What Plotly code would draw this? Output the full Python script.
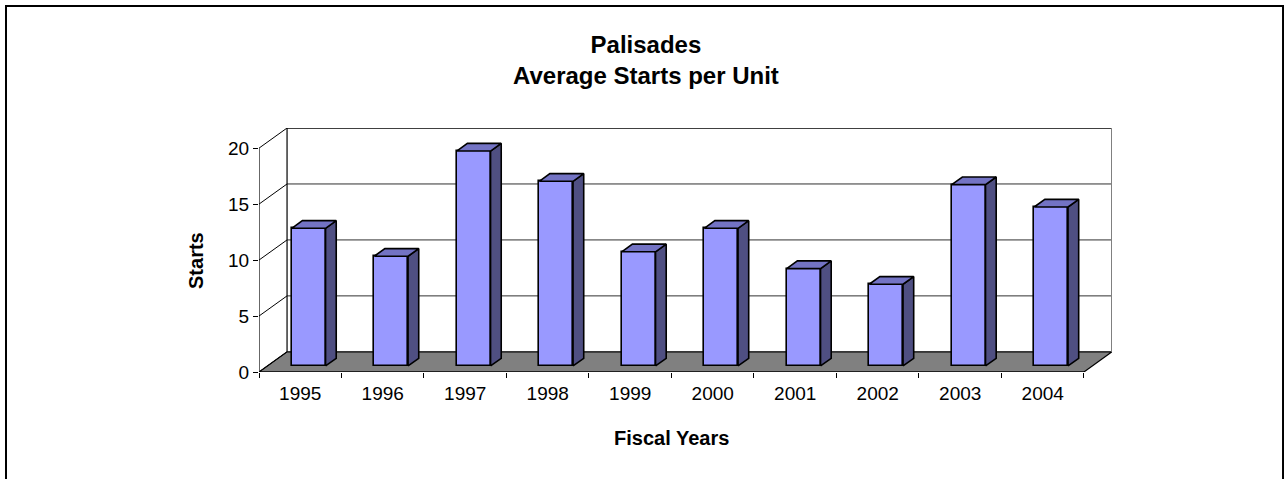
import plotly.graph_objects as go

# ---- data ----
years = ["1995", "1996", "1997", "1998", "1999", "2000", "2001", "2002", "2003", "2004"]
starts = [12.3, 9.8, 19.2, 16.5, 10.2, 12.3, 8.7, 7.3, 16.2, 14.2]
y_ticks = [0, 5, 10, 15, 20]
title_lines = ["Palisades", "Average Starts per Unit"]
x_title = "Fiscal Years"
y_title = "Starts"

# ---- 3D pseudo-depth geometry (in axis units) ----
DX = 0.34      # depth offset along x (category units)
DY = 1.8       # depth offset along y (value units)
BAR_W = 0.41
Z0, Z1 = 0.30, 0.68   # bar front / back depth fraction
Y_MAX = y_ticks[-1]

pos = list(range(len(years)))
n = len(years)

FRONT = "#9999FF"
SIDE = "#4F4F82"
TOP = "#7373C4"
FONT = "Liberation Sans, Arial, sans-serif"

fig = go.Figure()

# front faces
fig.add_trace(go.Bar(
    x=[p + Z0 * DX for p in pos], y=starts, base=Z0 * DY, width=BAR_W,
    marker=dict(color=FRONT, line=dict(color="black", width=1.6)),
    hoverinfo="skip", showlegend=False,
))

dz = Z1 - Z0
side_x, side_y, top_x, top_y = [], [], [], []
for p, v in zip(pos, starts):
    b = Z0 * DY
    xl = p - BAR_W / 2 + Z0 * DX
    xr = p + BAR_W / 2 + Z0 * DX
    side_x += [xr, xr + dz * DX, xr + dz * DX, xr, xr, None]
    side_y += [b, b + dz * DY, b + v + dz * DY, b + v, b, None]
    t = b + v
    top_x += [xl, xr, xr + dz * DX, xl + dz * DX, xl, None]
    top_y += [t, t, t + dz * DY, t + dz * DY, t, None]

fig.add_trace(go.Scatter(x=side_x, y=side_y, mode="lines", fill="toself",
                         fillcolor=SIDE, line=dict(color="black", width=1.6),
                         hoverinfo="skip", showlegend=False))
fig.add_trace(go.Scatter(x=top_x, y=top_y, mode="lines", fill="toself",
                         fillcolor=TOP, line=dict(color="black", width=1.6),
                         hoverinfo="skip", showlegend=False))

x0, x1 = -0.5, n - 0.5
shapes = []
# floor
shapes.append(dict(type="path", xref="x", yref="y", layer="below",
                   path=f"M {x0},0 L {x1},0 L {x1+DX},{DY} L {x0+DX},{DY} Z",
                   fillcolor="#808080", line=dict(color="black", width=1.2)))
# back wall gridlines and left wall slants
for v in y_ticks:
    if 0 < v < Y_MAX:
        shapes.append(dict(type="line", xref="x", yref="y", layer="below",
                           x0=x0 + DX, x1=x1 + DX, y0=v + DY, y1=v + DY,
                           line=dict(color="#303030", width=1)))
    shapes.append(dict(type="line", xref="x", yref="y", layer="below",
                       x0=x0, x1=x0 + DX, y0=v, y1=v + DY,
                       line=dict(color="black", width=1)))
# back wall edges
shapes.append(dict(type="line", xref="x", yref="y", layer="below",
                   x0=x0 + DX, x1=x1 + DX, y0=Y_MAX + DY, y1=Y_MAX + DY,
                   line=dict(color="black", width=1.5)))
shapes.append(dict(type="line", xref="x", yref="y", layer="below",
                   x0=x0 + DX, x1=x0 + DX, y0=DY, y1=Y_MAX + DY,
                   line=dict(color="black", width=1.2)))
shapes.append(dict(type="line", xref="x", yref="y", layer="below",
                   x0=x1 + DX, x1=x1 + DX, y0=DY, y1=Y_MAX + DY,
                   line=dict(color="#808080", width=2)))
# front axis lines
shapes.append(dict(type="line", xref="x", yref="y",
                   x0=x0, x1=x1, y0=0, y1=0, line=dict(color="black", width=1.2)))
shapes.append(dict(type="line", xref="x", yref="y",
                   x0=x0, x1=x0, y0=0, y1=Y_MAX, line=dict(color="black", width=1.2)))
# outer chart border
shapes.append(dict(type="rect", xref="paper", yref="paper",
                   x0=-0.2966, x1=1.2005, y0=-0.48, y1=1.5,
                   line=dict(color="black", width=2), fillcolor="rgba(0,0,0,0)"))

annotations = [
    dict(text="<b>" + "</b><br><b>".join(title_lines) + "</b>",
         xref="paper", yref="paper", x=0.4537, y=1.28, xanchor="center", yanchor="middle",
         showarrow=False, font=dict(family=FONT, size=24, color="black")),
    dict(text="<b>" + y_title + "</b>", textangle=-90,
         xref="paper", yref="paper", x=-0.0739, y=0.459, xanchor="center", yanchor="middle",
         showarrow=False, font=dict(family=FONT, size=20, color="black")),
    dict(text="<b>" + x_title + "</b>",
         xref="x", yref="paper", x=(x0 + x1) / 2, y=-0.27, xanchor="center", yanchor="middle",
         showarrow=False, font=dict(family=FONT, size=20, color="black")),
]

fig.update_layout(
    width=1284, height=479, autosize=False,
    margin=dict(l=259, r=172, t=128, b=107, pad=0),
    paper_bgcolor="white", plot_bgcolor="white",
    shapes=shapes, annotations=annotations, bargap=0,
    font=dict(family=FONT, color="black"),
    xaxis=dict(range=[x0, x1 + DX], tickvals=pos, ticktext=years,
               ticks="outside", ticklen=4, tickcolor="rgba(0,0,0,0)",
               showgrid=False, zeroline=False, showline=False,
               tickfont=dict(family=FONT, size=19, color="black"),
               minor=dict(tickmode="linear", tick0=-0.5, dtick=1, ticks="outside",
                          ticklen=5, tickcolor="black", showgrid=False)),
    yaxis=dict(range=[0, Y_MAX + DY], tickvals=y_ticks,
               ticks="outside", ticklen=5, tickcolor="black",
               showgrid=False, zeroline=False, showline=False,
               tickfont=dict(family=FONT, size=19, color="black")),
)

fig.write_html("out.html", config={"displayModeBar": False},
               post_script="document.body.style.margin='0';")
